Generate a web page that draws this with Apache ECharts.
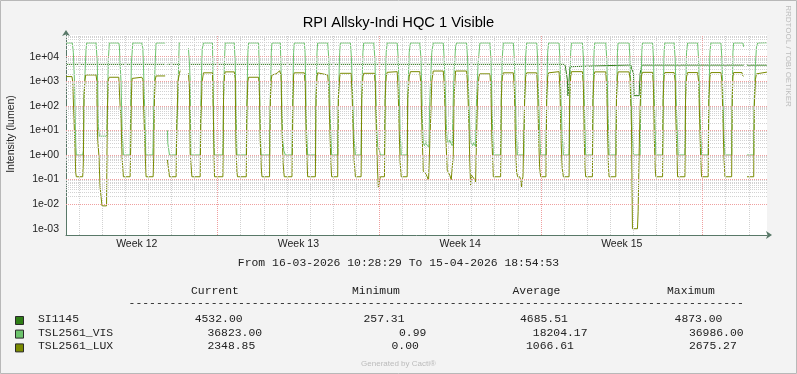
<!DOCTYPE html>
<html>
<head>
<meta charset="utf-8">
<script src="https://cdn.jsdelivr.net/npm/echarts@6/dist/echarts.min.js"></script>
<style>
html,body{margin:0;padding:0;background:#F3F3F3;}
#chart{width:797px;height:374px;}
</style>
</head>
<body>
<div id="chart"></div>
<script>
// x values: hours since 2026-03-16 00:00
const startHour = 10.475;   // 16-03-2026 10:28:29
const endHour = 738.915;    // 15-04-2026 18:54:53
const weekTickHours = [84, 252, 420, 588];
const weekLabels = ['Week 12', 'Week 13', 'Week 14', 'Week 15'];
const yTickExponents = [-3, -2, -1, 0, 1, 2, 3, 4];

const seriesNames = ['SI1145', 'TSL2561_VIS', 'TSL2561_LUX'];
const currentValues = ['4532.00', '36823.00', '2348.85'];
const minimumValues = ['257.31', '0.99', '0.00'];
const averageValues = ['4685.51', '18204.17', '1066.61'];
const maximumValues = ['4873.00', '36986.00', '2675.27'];
const headerLabels = ['Current', 'Minimum', 'Average', 'Maximum'];
const periodText = 'From 16-03-2026 10:28:29 To 15-04-2026 18:54:53';
const chartTitle = 'RPI Allsky-Indi HQC 1 Visible';
const yAxisTitle = 'Intensity (lumen)';

const siData = [
[10.5,4850],[113.5,4850],[114.5,'-'],[115.9,4850],[129.1,4850],[133,'-'],[137.7,4850],
[528.7,4850],[529.7,3400],[531.5,1100],[532.1,257.31],[533.2,260],[534.2,3900],[535.7,4600],
[597.4,4600],[598.1,3400],[600.2,2100],[600.8,260],[606.0,258],[607.1,2100],[608.8,4550],
[714.8,4550],[716,'-'],[718.1,4532],[738.9,4532]
];

const visData = [
[10.5,36000],[17.0,36000],[18.1,15000],[19.3,1000],[20.4,5],[21.2,1],[27.8,1],[28.5,1.5],[29.2,240],[30.2,2100],[31.3,19000],[32.0,36000],
[41.7,36000],[42.4,30000],[43.0,5400],[44.1,14],[45.1,5.8],[52.8,5.8],[53.4,50],[54.5,8000],[55.5,36000],
[65.3,36000],[65.9,28000],[66.7,5400],[67.7,850],[68.7,14],[70.1,1],[77.1,1],[77.8,240],[78.4,5400],[79.9,36000],
[89.2,36000],[90.3,22000],[90.9,5400],[91.9,240],[92.7,14],[93.4,1],[100.7,1],[102.0,240],[103.1,5400],[104.1,36000],
[113.5,36000],[114.5,'-'],
[115.9,10],[116.3,3],[118.0,1],[124.9,1],[125.7,20],[126.7,170],[127.5,5000],[128.1,36000],[129.1,36000],[133,'-'],
[137.7,22000],[138.8,5000],[139.5,1100],[140.2,1],[149.9,1],[150.6,170],[152.0,20000],[153.3,36000],
[162.7,36000],[163.1,30000],[163.8,27],[164.5,1],[173.5,1],[174.2,200],[175.2,8000],[175.9,36000],
[185.3,36000],[186.3,6000],[187.4,27],[188.1,1],[197.8,1],[198.5,200],[199.5,15000],[200.2,36000],
[210.6,36000],[211.6,1100],[212.3,14],[213.1,1],[222.0,1],[222.8,200],[223.8,15000],[224.5,36000],
[233.2,36000],[234.2,1000],[235.6,4],[236.8,1.5],[238.4,1],[245.3,1],[246.0,200],[247.0,15000],[247.7,36000],
[258.1,36000],[258.9,15000],[259.5,1000],[260.2,14],[261.6,1],[269.6,1],[270.3,200],[271.3,15000],[272.0,36000],
[282.4,36000],[283.4,10000],[284.5,300],[285.5,10],[286.5,1],[292.8,1],[293.5,200],[294.9,15000],[295.6,36000],
[306.0,36000],[307.0,10000],[308.1,600],[309.1,20],[310.2,3],[311.2,1],[317.1,1],[317.8,200],[319.0,15000],[319.8,36000],
[330.3,36000],[331.3,10000],[332.3,500],[333.4,10],[334.4,2.2],[336.2,1.5],[337.2,1],[341.4,1],[342.1,200],[343.2,15000],[344.2,36000],
[354.6,36000],[355.6,10000],[356.7,500],[357.7,10],[358.8,1],[365.0,1],[365.6,200],[367.1,15000],[368.4,36000],
[378.1,36000],[379.2,10000],[380.2,500],[380.9,20],[381.7,3],[383.0,2.4],[384.4,3.5],[385.4,2.5],[386.4,2.1],[387.5,2.1],[388.5,150],[389.6,2000],[390.6,15000],[392.1,36000],
[402.5,36000],[403.5,8000],[404.9,200],[405.9,10],[406.6,4],[408.0,3],[409.3,4.1],[410.4,3],[411.8,2.4],[412.9,200],[413.9,3000],[415.3,25000],[416.3,36000],
[426.7,36000],[427.8,8000],[429.3,100],[430.4,6],[431.6,3],[433.0,2.4],[434.3,3.2],[436.1,2.2],[437.1,200],[438.7,5000],[439.5,12000],[440.6,36000],
[451.0,36000],[452.0,8000],[453.0,200],[453.8,10],[454.5,1],[462.1,1],[462.8,200],[463.9,10000],[464.9,36000],
[475.3,36000],[476.4,8000],[477.4,200],[478.4,10],[479.5,1],[486.3,1],[487.1,200],[488.1,10000],[489.2,36000],
[499.6,36000],[500.6,8000],[501.6,200],[502.7,10],[503.7,1],[509.2,1],[510.0,300],[511.0,15000],[512.0,36000],
[522.8,36000],[523.8,8000],[524.8,200],[525.9,10],[527.3,1],[533.2,1],[533.9,200],[534.9,15000],[535.7,36000],
[547.1,36000],[548.2,8000],[549.0,200],[549.8,10],[550.5,1],[557.5,1],[558.1,200],[559.2,15000],[559.9,36000],
[571.4,36000],[572.4,8000],[573.4,200],[574.2,10],[574.8,1],[581.8,1],[582.5,200],[583.5,15000],[584.2,36000],
[595.6,36000],[596.6,8000],[597.7,200],[598.7,10],[600.2,1],[607.1,1],[607.8,200],[608.8,15000],[609.5,36000],
[620.0,36000],[621.0,8000],[621.8,200],[622.7,10],[623.4,1],[630.4,1],[631.0,200],[632.0,15000],[632.7,36000],
[642.4,36000],[643.5,8000],[644.5,200],[645.6,10],[646.6,1],[653.6,1],[654.3,200],[655.3,15000],[656.4,36000],
[666.8,36000],[667.8,8000],[668.9,200],[669.9,10],[670.9,1],[677.8,1],[678.5,200],[679.6,15000],[680.6,36000],
[691.0,36000],[692.1,8000],[693.1,200],[694.1,10],[695.2,1],[702.2,1],[702.8,200],[703.5,15000],[704.2,36000],
[713.9,36000],[714.6,25000],[716,'-'],
[718.1,1],[725.1,1],[725.7,200],[726.9,5000],[728.0,25000],[729.2,36000],[738.9,36823]
];

const luxData = [
[10.5,1550],[16.7,1540],[17.4,1000],[18.8,30],[19.8,1.9],[20.6,0.19],[21.2,0.13],[27.8,0.13],[28.5,0.5],[29.2,240],[30.2,1100],[31.0,1800],
[41.7,1800],[42.4,1100],[43.0,14],[43.5,4],[44.8,0.8],[45.1,0.35],[45.9,0.05],[46.9,0.02],[47.9,0.0085],[52.6,0.0085],[53.4,50],[54.5,1200],[55.5,1450],
[65.3,1450],[65.9,1300],[66.7,100],[67.7,30],[68.7,0.85],[69.5,0.75],[70.1,0.13],[77.1,0.13],[77.8,3],[78.4,250],[79.2,1300],[79.9,1450],
[89.2,1450],[90.3,1200],[91.6,27],[92.7,1.2],[93.7,0.13],[101.0,0.13],[101.7,1],[102.4,200],[103.1,1100],[104.1,1640],
[113.5,1640],[114.5,'-'],
[115.9,0.63],[116.9,0.3],[118.0,0.13],[124.9,0.13],[125.7,27],[127.0,1100],[128.4,2100],[129.1,2700],[133,'-'],
[137.7,2100],[138.8,500],[139.5,1.2],[141.3,0.13],[149.9,0.13],[150.6,27],[152.0,1000],[153.3,2200],
[162.7,2200],[163.8,14],[164.8,0.13],[173.5,0.13],[174.2,240],[175.2,1800],[175.9,2400],
[185.3,2400],[186.3,1300],[187.1,2.2],[188.1,0.2],[188.7,0.13],[197.8,0.13],[198.5,93],[199.5,1000],[200.2,1450],
[210.6,1450],[211.6,240],[212.3,4],[213.4,0.3],[214.1,0.13],[222.0,0.13],[222.8,150],[223.8,1200],[224.5,1800],
[228.0,1950],[230.3,2200],[232.4,2675],[233.2,2300],[233.9,1800],[234.9,14],[236.0,0.5],[237.3,0.13],[245.3,0.13],[246.4,200],[247.0,1800],[247.7,2200],
[258.1,2200],[259.2,500],[260.2,3],[261.6,0.13],[269.6,0.13],[270.3,200],[271.3,1500],[272.0,2200],
[282.4,1800],[283.4,600],[284.7,10],[285.7,0.5],[286.5,0.13],[292.8,0.13],[293.5,200],[294.9,1500],[295.6,2100],
[306.7,2100],[307.8,300],[308.8,10],[309.9,0.6],[311.2,0.13],[317.1,0.13],[317.8,200],[319.0,1500],[319.8,2100],
[331.0,2100],[332.0,500],[333.1,5],[334.1,0.3],[335.1,0.046],[335.9,0.05],[336.5,0.1],[337.2,0.13],[341.4,0.13],[342.1,200],[343.2,1500],[344.2,2300],
[354.6,2450],[355.6,500],[356.7,10],[357.7,0.5],[358.8,0.13],[365.0,0.13],[365.6,200],[367.1,1500],[368.4,2450],
[378.1,2450],[379.2,800],[380.2,20],[381.7,0.22],[383.0,0.2],[384.4,0.17],[385.8,0.13],[387.2,0.09],[387.9,0.09],[388.5,0.1],[389.6,50],[390.6,1000],[392.1,2600],
[402.5,2600],[403.5,800],[404.9,10],[406.6,0.24],[408.0,0.2],[409.3,0.15],[410.8,0.1],[411.8,0.09],[412.9,1],[413.9,300],[415.3,2600],
[426.7,2600],[427.8,800],[429.3,10],[430.1,0.5],[430.9,0.06],[431.9,0.15],[433.5,0.13],[435.0,0.1],[436.1,0.08],[437.1,5],[438.2,300],[439.5,1500],[440.6,2000],
[451.0,2000],[452.0,500],[453.0,5],[454.5,0.13],[462.1,0.13],[462.8,200],[463.9,1500],[464.9,2200],
[475.3,2200],[476.4,500],[477.4,5],[478.7,0.2],[479.8,0.13],[481.9,0.13],[482.9,0.1],[483.9,0.05],[484.7,0.1],[485.3,0.13],[486.3,0.13],[487.1,200],[488.1,1500],[489.2,2200],
[499.6,2200],[500.6,500],[501.6,5],[502.7,0.3],[503.7,0.13],[509.2,0.13],[510.0,200],[511.0,1500],[512.0,2200],
[522.8,2450],[523.8,500],[524.8,5],[526.1,0.3],[527.3,0.13],[533.2,0.13],[533.9,200],[534.9,1500],[535.7,2450],
[547.1,2450],[548.2,500],[549.0,5],[549.8,0.3],[550.5,0.13],[557.5,0.13],[558.1,200],[559.2,1500],[559.9,2400],
[571.4,2400],[572.4,500],[573.4,5],[574.2,0.3],[574.8,0.13],[581.8,0.13],[582.5,200],[583.5,1500],[584.2,2400],
[595.6,2400],[596.6,1300],[598.1,14],[599.1,0.001],[604.3,0.001],[605.0,0.005],[606.0,1],[607.1,100],[608.3,1500],[609.5,2300],
[620.0,2300],[621.0,500],[621.8,5],[622.7,0.3],[623.4,0.13],[630.4,0.13],[631.0,200],[632.0,1500],[632.7,2250],
[642.4,2250],[643.5,1000],[644.2,32],[645.2,28],[646.0,0.13],[653.6,0.13],[654.3,200],[655.3,1500],[656.4,2250],
[666.8,2250],[667.8,1000],[668.9,30],[669.9,1],[670.9,0.13],[677.8,0.13],[678.5,200],[679.6,1500],[680.6,2250],
[691.0,2250],[692.1,1000],[693.1,30],[694.1,1],[695.2,0.13],[702.2,0.13],[702.8,200],[703.5,1500],[704.2,2250],
[712.9,2250],[713.6,1700],[714.6,1600],[716,'-'],
[718.1,0.13],[725.1,0.13],[725.7,100],[726.9,1200],[728.0,2000],[729.2,2350],[738.9,2349]
];

// ---- styling / layout ----
const colors = ['#2E7D16', '#6CC36C', '#7A8A00'];
const yMin = 5.55e-4, yMax = 7.6e4;
const minorStyle = {color: '#D2D2D2', width: 1, type: [1, 1]};
const majorStyle = {color: '#EFA0A0', width: 1, type: [1, 1]};
const monoFont = '11.4px "Liberation Mono"';
const sansFont = '"Liberation Sans"';

const minorLines = [], majorLines = [];
for (let k = -4; k <= 4; k++) {
  for (let m = 1; m <= 9; m++) {
    const v = m * Math.pow(10, k);
    if (v < yMin || v > yMax) continue;
    (m === 1 ? majorLines : minorLines).push({yAxis: v, lineStyle: m === 1 ? majorStyle : minorStyle});
  }
}
for (let d = 1; d * 24 < endHour; d++) {
  (d % 7 === 0 ? majorLines : minorLines).push({xAxis: d * 24, lineStyle: d % 7 === 0 ? majorStyle : minorStyle});
}

const graphics = [];
graphics.push({type: 'rect', shape: {x: 0.5, y: 0.5, width: 796, height: 373}, style: {fill: 'none', stroke: '#B8B8B8', lineWidth: 1}, silent: true});
graphics.push({type: 'text', x: 398.5, y: 22.5, style: {text: chartTitle, font: '14.7px ' + sansFont, fill: '#000', align: 'center', verticalAlign: 'middle'}});
graphics.push({type: 'text', x: 11, y: 134, rotation: Math.PI / 2, style: {text: yAxisTitle, font: '10.5px ' + sansFont, fill: '#222', align: 'center', verticalAlign: 'middle'}});
graphics.push({type: 'text', x: 788, y: 56, rotation: -Math.PI / 2, style: {text: 'RRDTOOL / TOBI OETIKER', font: '8px ' + sansFont, fill: '#BDBDBD', align: 'center', verticalAlign: 'middle'}});
graphics.push({type: 'text', x: 398.5, y: 263.3, style: {text: periodText, font: monoFont, fill: '#222', align: 'center', verticalAlign: 'middle'}});
const headerX = [191, 352, 512.5, 667];
headerLabels.forEach((t, i) => graphics.push({type: 'text', x: headerX[i], y: 290.7, style: {text: t, font: monoFont, fill: '#222', align: 'left', verticalAlign: 'middle'}}));
graphics.push({type: 'text', x: 128.6, y: 303.3, style: {text: '-'.repeat(90), font: monoFont, fill: '#222', align: 'left', verticalAlign: 'middle'}});
const rowY = [319, 332.6, 346.4];
const valueX = [[194.7, 363.5, 520, 674.6], [207.4, 399, 532.8, 688.9], [207.4, 391.5, 526, 688.9]];
seriesNames.forEach((name, r) => {
  graphics.push({type: 'rect', shape: {x: 15.5, y: rowY[r] - 2.5, width: 8, height: 8}, style: {fill: colors[r], stroke: '#2a2a2a', lineWidth: 1}});
  graphics.push({type: 'text', x: 38, y: rowY[r], style: {text: name, font: monoFont, fill: '#222', align: 'left', verticalAlign: 'middle'}});
  const vals = [currentValues[r], minimumValues[r], averageValues[r], maximumValues[r]];
  vals.forEach((v, c) => graphics.push({type: 'text', x: valueX[r][c], y: rowY[r], style: {text: v, font: monoFont, fill: '#222', align: 'left', verticalAlign: 'middle'}}));
});
graphics.push({type: 'text', x: 398.5, y: 363.3, style: {text: 'Generated by Cacti®', font: '8px ' + sansFont, fill: '#BBBBBB', align: 'center', verticalAlign: 'middle'}});

const axisColor = '#587868';
const lineSeries = (name, data, color, z) => ({
  name, type: 'line', data, z, showSymbol: false, symbol: 'none', connectNulls: false,
  lineStyle: {color, width: 1}, itemStyle: {color}, silent: true, animation: false, sampling: null
});

const chart = echarts.init(document.getElementById('chart'), null, {renderer: 'canvas'});
chart.setOption({
  animation: false,
  backgroundColor: '#F3F3F3',
  grid: {left: 66, right: 30, top: 35, bottom: 139, show: true, backgroundColor: '#FFFFFF', borderWidth: 0, containLabel: false},
  xAxis: {
    type: 'value', min: startHour, max: endHour,
    axisLine: {show: true, onZero: false, lineStyle: {color: axisColor, width: 1}, symbol: ['none', 'arrow'], symbolSize: [6, 6], symbolOffset: [0, 5]},
    axisTick: {show: false}, splitLine: {show: false}, minorTick: {show: false},
    axisLabel: {
      customValues: weekTickHours,
      formatter: v => { const i = weekTickHours.indexOf(Math.round(v)); return i >= 0 ? weekLabels[i] : ''; },
      font: undefined, fontFamily: 'Liberation Sans', fontSize: 10.5, color: '#222', margin: 4
    }
  },
  yAxis: {
    type: 'log', logBase: 10, min: yMin, max: yMax,
    axisLine: {show: true, onZero: false, lineStyle: {color: axisColor, width: 1}, symbol: ['none', 'arrow'], symbolSize: [6, 6], symbolOffset: [0, 5]},
    axisTick: {show: false}, splitLine: {show: false},
    axisLabel: {
      formatter: v => {
        const e = Math.log10(v); const r = Math.round(e);
        if (Math.abs(e - r) > 1e-6 || yTickExponents.indexOf(r) < 0) return '';
        return '1e' + (r < 0 ? '-' : '+') + String(Math.abs(r)).padStart(2, '0');
      },
      fontFamily: 'Liberation Sans', fontSize: 10.5, color: '#222', margin: 7
    }
  },
  graphic: {elements: graphics},
  series: [
    {
      type: 'line', data: [], z: 1, silent: true,
      markLine: {silent: true, symbol: ['none', 'none'], label: {show: false}, emphasis: {disabled: true}, animation: false,
        data: minorLines.concat(majorLines)}
    },
    lineSeries(seriesNames[0], siData, colors[0], 2),
    lineSeries(seriesNames[1], visData, colors[1], 3),
    lineSeries(seriesNames[2], luxData, colors[2], 4)
  ]
});
</script>
</body>
</html>
